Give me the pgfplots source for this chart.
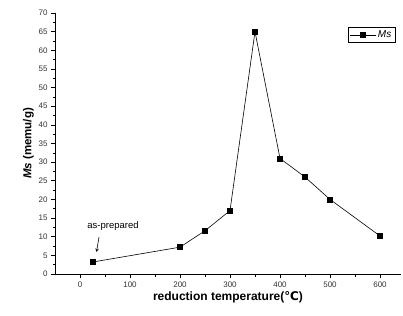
\documentclass[border=0pt]{standalone}
\usepackage{pgfplots}
\pgfplotsset{compat=1.18}
\usepackage{fontspec}
\setmainfont{Liberation Sans}
\newfontfamily\symfont{DejaVu Sans}
\begin{document}
\begin{tikzpicture}
\begin{axis}[
  scale only axis,
  width=346pt, height=261pt,
  xmin=-50, xmax=642, ymin=0, ymax=70,
  axis x line=bottom, axis y line=left,
  axis line style={-, black, line width=0.8pt},
  xtick={0,100,...,600}, minor x tick num=1,
  ytick={0,5,...,70}, minor y tick num=1,
  tick align=outside,
  major tick length=4pt, minor tick length=2.5pt,
  tick style={black, line width=0.6pt},
  tick label style={font=\fontsize{8}{9}\selectfont, text=black!80},
  /pgf/number format/assume math mode=true,
  xlabel={\bfseries reduction temperature({\symfont ℃})},
  xlabel style={font=\fontsize{12}{13}\selectfont, yshift=3pt},
  ylabel={\bfseries\textit{Ms} (memu/g)},
  ylabel style={font=\fontsize{11.5}{13}\selectfont, yshift=-2pt},
  legend style={at={(rel axis cs:0.983,0.946)}, anchor=north east, draw=black, line width=0.6pt,
    font=\fontsize{10}{11}\selectfont, inner sep=1.5pt},
  legend image code/.code={
    \draw[#1, mark=none] (0cm,0cm) -- (0.9cm,0cm);
    \draw[#1, only marks] plot coordinates {(0.45cm,0cm)};
  },
  legend cell align=left,
  clip=false,
]
\addplot[black, line width=0.6pt, mark=square*, mark size=2.5pt, mark options={solid}]
  coordinates {(25,3.2) (200,7.2) (250,11.6) (300,17) (350,65) (400,31) (450,26) (500,20) (600,10.2)};
\addlegendentry{\textit{Ms}}
\node[font=\fontsize{9.5}{11}\selectfont] at (axis cs:66,12.9) {as-prepared};
\draw[-stealth, line width=0.6pt] (axis cs:38,9.9) -- (axis cs:33,5.9);
\end{axis}
\pgfresetboundingbox
\path ([shift={(-55pt,-41pt)}]current axis.south west) rectangle ([shift={(2pt,13pt)}]current axis.north east);
\end{tikzpicture}
\end{document}
